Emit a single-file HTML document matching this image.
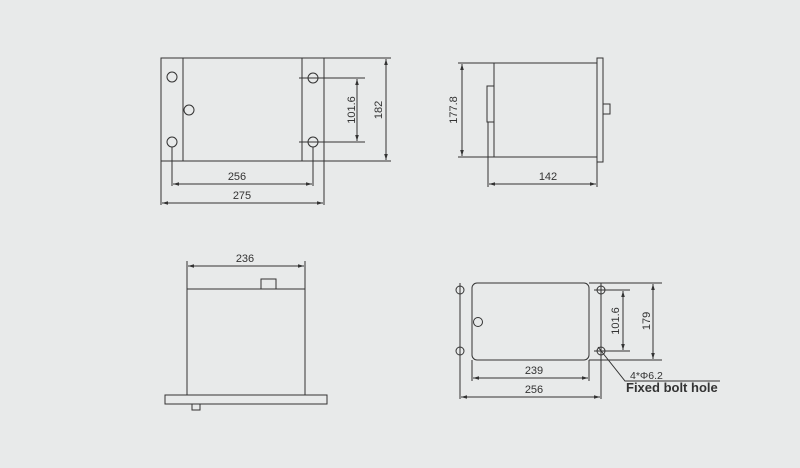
<!DOCTYPE html>
<html><head><style>html,body{margin:0;padding:0;background:#e8eaea}svg{display:block}</style></head>
<body>
<svg width="800" height="468" viewBox="0 0 800 468" xmlns="http://www.w3.org/2000/svg" font-family="Liberation Sans, sans-serif" font-size="11" fill="none" stroke="#333" stroke-width="1">
<defs><marker id="a" viewBox="0 0 10 10" refX="10" refY="5" markerWidth="6" markerHeight="6" orient="auto-start-reverse"><path d="M0,2 L10,5 L0,8" fill="#333" stroke="none"/></marker></defs>
<!-- top-left -->
<rect x="161" y="58" width="163" height="103"/>
<line x1="183" y1="58" x2="183" y2="161"/><line x1="302" y1="58" x2="302" y2="161"/>
<circle cx="172" cy="77" r="5"/><circle cx="189" cy="110" r="5"/><circle cx="172" cy="142" r="5"/><circle cx="313" cy="78" r="5"/><circle cx="313" cy="142" r="5"/>
<line x1="172" y1="147" x2="172" y2="186"/><line x1="313" y1="147" x2="313" y2="186"/>
<line x1="173" y1="184" x2="312" y2="184" marker-start="url(#a)" marker-end="url(#a)"/>
<line x1="161" y1="161" x2="161" y2="205"/><line x1="324" y1="161" x2="324" y2="205"/>
<line x1="162" y1="203" x2="323" y2="203" marker-start="url(#a)" marker-end="url(#a)"/>
<line x1="324" y1="58" x2="391" y2="58"/><line x1="324" y1="161" x2="391" y2="161"/>
<line x1="386" y1="59" x2="386" y2="160" marker-start="url(#a)" marker-end="url(#a)"/>
<line x1="299" y1="78" x2="365" y2="78"/><line x1="299" y1="142" x2="365" y2="142"/>
<line x1="357" y1="79" x2="357" y2="141" marker-start="url(#a)" marker-end="url(#a)"/>
<g fill="#333" stroke="none" text-anchor="middle">
<text x="237" y="180">256</text><text x="242" y="199">275</text>
<text transform="translate(355,110) rotate(-90)">101.6</text><text transform="translate(382,110) rotate(-90)">182</text>
</g>
<!-- top-right -->
<line x1="458" y1="63" x2="597" y2="63"/><line x1="458" y1="157" x2="597" y2="157"/>
<line x1="494" y1="63" x2="494" y2="157"/>
<rect x="487" y="86" width="7" height="36"/>
<rect x="597" y="58" width="6" height="104"/>
<rect x="603" y="104" width="7" height="10"/>
<line x1="462" y1="64" x2="462" y2="156" marker-start="url(#a)" marker-end="url(#a)"/>
<line x1="488" y1="122" x2="488" y2="187"/><line x1="597" y1="162" x2="597" y2="187"/>
<line x1="489" y1="184" x2="596" y2="184" marker-start="url(#a)" marker-end="url(#a)"/>
<g fill="#333" stroke="none" text-anchor="middle">
<text transform="translate(457,110) rotate(-90)">177.8</text><text x="548" y="180">142</text>
</g>
<!-- bottom-left -->
<rect x="187" y="289" width="118" height="106"/>
<rect x="261" y="279" width="15" height="10"/>
<rect x="165" y="395" width="162" height="9"/>
<rect x="192" y="404" width="8" height="6"/>
<line x1="187" y1="261" x2="187" y2="289"/><line x1="305" y1="261" x2="305" y2="289"/>
<line x1="188" y1="266" x2="304" y2="266" marker-start="url(#a)" marker-end="url(#a)"/>
<text x="245" y="262" fill="#333" stroke="none" text-anchor="middle">236</text>
<!-- bottom-right -->
<rect x="472" y="283" width="117" height="77" rx="5"/>
<circle cx="478" cy="322" r="4.5"/>
<line x1="460" y1="283" x2="460" y2="399"/><line x1="601" y1="283" x2="601" y2="399"/>
<circle cx="460" cy="290" r="4"/><circle cx="460" cy="351" r="4"/>
<circle cx="601" cy="290" r="4"/><circle cx="601" cy="351" r="4"/>
<line x1="594" y1="290" x2="630" y2="290"/><line x1="594" y1="351" x2="630" y2="351"/>
<line x1="623" y1="291" x2="623" y2="350" marker-start="url(#a)" marker-end="url(#a)"/>
<line x1="589" y1="283" x2="662" y2="283"/><line x1="589" y1="360" x2="662" y2="360"/>
<line x1="653" y1="284" x2="653" y2="359" marker-start="url(#a)" marker-end="url(#a)"/>
<line x1="472" y1="360" x2="472" y2="381"/><line x1="589" y1="360" x2="589" y2="381"/>
<line x1="473" y1="378" x2="588" y2="378" marker-start="url(#a)" marker-end="url(#a)"/>
<line x1="461" y1="397" x2="600" y2="397" marker-start="url(#a)" marker-end="url(#a)"/>
<polyline points="598,347 625,381 720,381"/>
<g fill="#333" stroke="none" text-anchor="middle">
<text transform="translate(619,321) rotate(-90)">101.6</text><text transform="translate(650,321) rotate(-90)">179</text>
<text x="534" y="374">239</text><text x="534" y="393">256</text>
</g>
<text x="630" y="379" fill="#333" stroke="none" font-size="10.5">4*Φ6.2</text>
<text x="626" y="392" fill="#333" stroke="none" font-size="13" font-weight="bold">Fixed bolt hole</text>
</svg>
</body></html>
